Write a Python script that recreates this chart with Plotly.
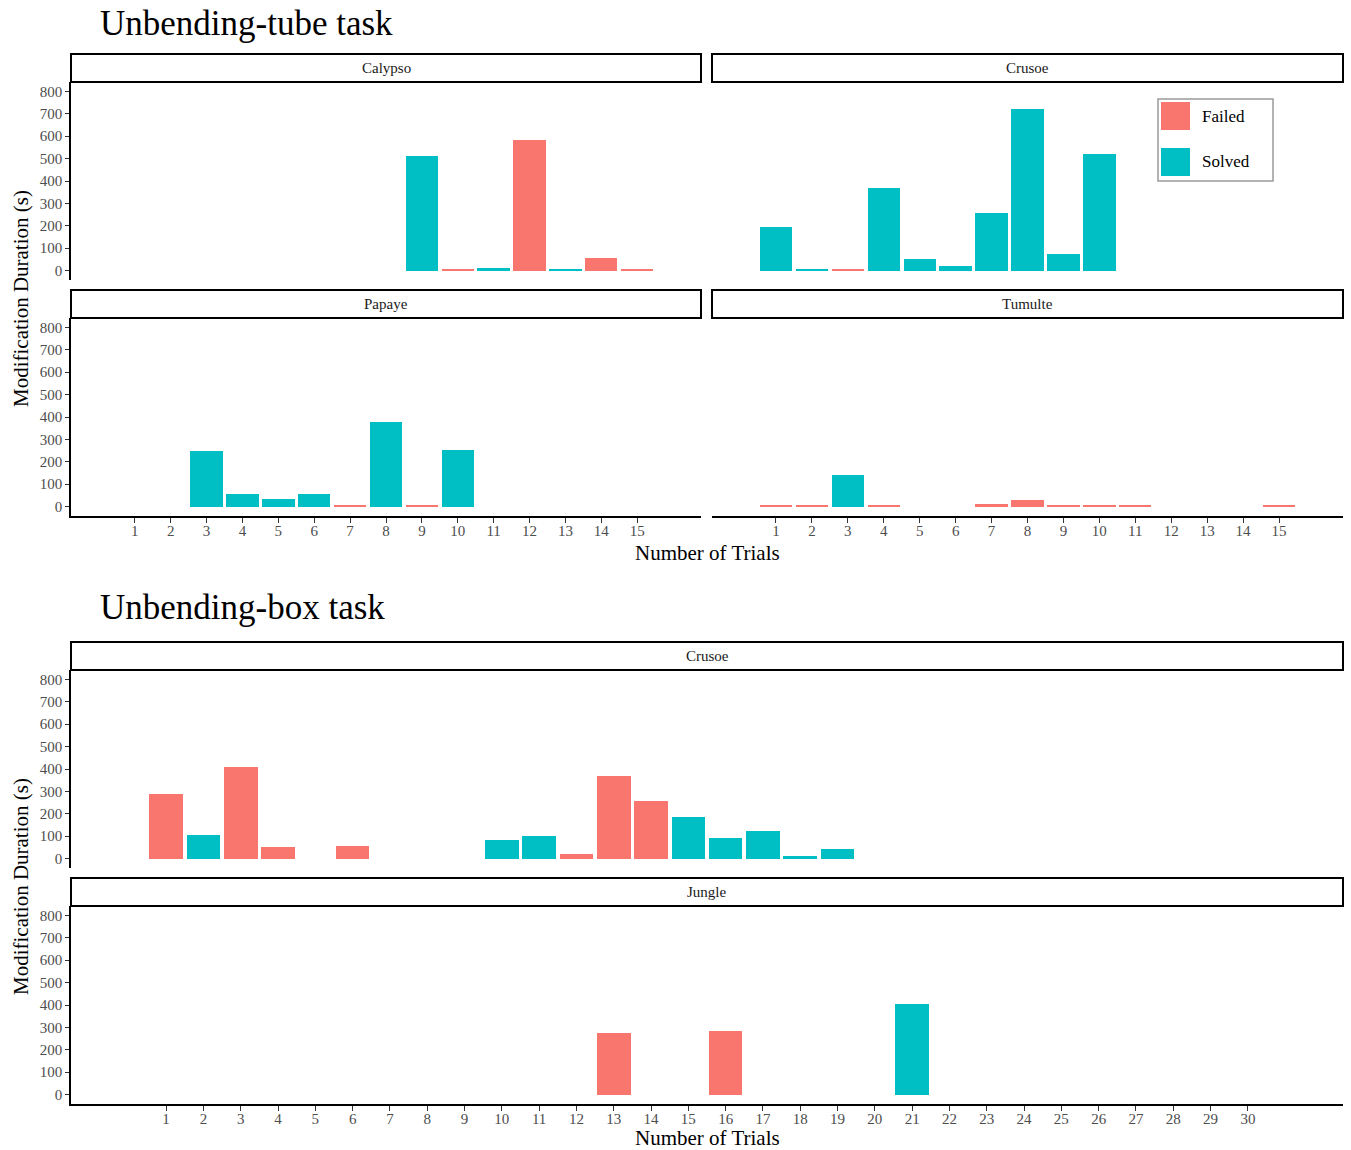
import plotly.graph_objects as go

W, H = 1351, 1150
FAILED_COLOR = "#F8766D"
SOLVED_COLOR = "#00BFC4"
FONT = "Liberation Serif, Times New Roman, serif"

# ---------------- data ----------------
calypso_trials = [9, 10, 11, 12, 13, 14, 15]
calypso_dur = [510, 6, 13, 583, 6, 57, 3]
calypso_out = ["Solved", "Failed", "Solved", "Failed", "Solved", "Failed", "Failed"]

crusoe_tube_trials = [1, 2, 3, 4, 5, 6, 7, 8, 9, 10]
crusoe_tube_dur = [194, 6, 6, 371, 54, 19, 257, 723, 73, 519]
crusoe_tube_out = ["Solved", "Solved", "Failed", "Solved", "Solved", "Solved",
                   "Solved", "Solved", "Solved", "Solved"]

papaye_trials = [3, 4, 5, 6, 7, 8, 9, 10]
papaye_dur = [246, 55, 36, 58, 3, 379, 3, 254]
papaye_out = ["Solved", "Solved", "Solved", "Solved", "Failed", "Solved", "Failed", "Solved"]

tumulte_trials = [1, 2, 3, 4, 7, 8, 9, 10, 11, 15]
tumulte_dur = [9, 3, 140, 3, 13, 31, 3, 3, 9, 3]
tumulte_out = ["Failed", "Failed", "Solved", "Failed", "Failed", "Failed",
               "Failed", "Failed", "Failed", "Failed"]

box_crusoe_trials = [1, 2, 3, 4, 6, 10, 11, 12, 13, 14, 15, 16, 17, 18, 19]
box_crusoe_dur = [290, 106, 410, 51, 58, 81, 101, 21, 367, 257, 184, 91, 121, 13, 43]
box_crusoe_out = ["Failed", "Solved", "Failed", "Failed", "Failed", "Solved", "Solved",
                  "Failed", "Failed", "Failed", "Solved", "Solved", "Solved", "Solved", "Solved"]

jungle_trials = [13, 16, 21]
jungle_dur = [277, 285, 406]
jungle_out = ["Failed", "Failed", "Solved"]

tube_ticks = list(range(1, 16))
box_ticks = list(range(1, 31))
y_ticks = [0, 100, 200, 300, 400, 500, 600, 700, 800]

# ---------------- layout helpers ----------------
def px(x):
    return x / W

def py(y):
    return 1 - y / H

panels = [
    ("Calypso", calypso_trials, calypso_dur, calypso_out, (71, 701), (82, 280), (54, 82),
     [-0.78, 16.78], tube_ticks, False, True),
    ("Crusoe", crusoe_tube_trials, crusoe_tube_dur, crusoe_tube_out, (712, 1343), (82, 280), (54, 82),
     [-0.78, 16.78], tube_ticks, False, False),
    ("Papaye", papaye_trials, papaye_dur, papaye_out, (71, 701), (318, 516), (290, 318),
     [-0.78, 16.78], tube_ticks, True, True),
    ("Tumulte", tumulte_trials, tumulte_dur, tumulte_out, (712, 1343), (318, 516), (290, 318),
     [-0.78, 16.78], tube_ticks, True, False),
    ("Crusoe", box_crusoe_trials, box_crusoe_dur, box_crusoe_out, (71, 1343), (670, 868), (642, 670),
     [-1.55, 32.55], box_ticks, False, True),
    ("Jungle", jungle_trials, jungle_dur, jungle_out, (71, 1343), (906, 1104), (878, 906),
     [-1.55, 32.55], box_ticks, True, True),
]

fig = go.Figure()
shapes = []
annotations = []
layout_axes = {}

for i, (name, trials, dur, out, xs, ys, ss, xr, ticks, showx, showy) in enumerate(panels, start=1):
    xa = "x" if i == 1 else f"x{i}"
    ya = "y" if i == 1 else f"y{i}"
    for outcome, color in (("Failed", FAILED_COLOR), ("Solved", SOLVED_COLOR)):
        tx = [t for t, o in zip(trials, out) if o == outcome]
        ty = [d for d, o in zip(dur, out) if o == outcome]
        if not tx:
            continue
        fig.add_trace(go.Bar(
            x=tx, y=ty, width=0.9, name=outcome, showlegend=False,
            marker=dict(color=color, line=dict(width=0)),
            xaxis=xa, yaxis=ya,
        ))
    xkey = "xaxis" if i == 1 else f"xaxis{i}"
    ykey = "yaxis" if i == 1 else f"yaxis{i}"
    layout_axes[xkey] = dict(
        domain=[px(xs[0]), px(xs[1])], range=xr, anchor=ya,
        tickmode="array", tickvals=ticks, ticktext=[str(t) for t in ticks],
        showticklabels=showx, ticks="outside" if showx else "",
        ticklen=5, tickwidth=1.2, tickcolor="#333333", ticklabelstandoff=-5,
        showline=showx, linecolor="black", linewidth=1.5,
        showgrid=False, zeroline=False, fixedrange=True,
        tickfont=dict(family=FONT, size=15, color="#4D4D4D"),
    )
    layout_axes[ykey] = dict(
        domain=[py(ys[1]), py(ys[0])], range=[-42, 842], anchor=xa,
        tickmode="array", tickvals=y_ticks,
        showticklabels=showy, ticks="outside" if showy else "",
        ticklen=4, tickwidth=1.2, tickcolor="#333333",
        showline=showy, linecolor="black", linewidth=1.5,
        showgrid=False, zeroline=False, fixedrange=True,
        tickfont=dict(family=FONT, size=15, color="#4D4D4D"),
    )
    shapes.append(dict(type="rect", xref="paper", yref="paper",
                       x0=px(xs[0]), x1=px(xs[1]), y0=py(ss[1]), y1=py(ss[0]),
                       line=dict(color="black", width=2), fillcolor="white"))
    annotations.append(dict(text=name, xref="paper", yref="paper",
                            x=px((xs[0] + xs[1]) / 2), y=py((ss[0] + ss[1]) / 2),
                            showarrow=False, xanchor="center", yanchor="middle",
                            font=dict(family=FONT, size=15, color="#1A1A1A")))

# titles
annotations.append(dict(text="Unbending-tube task", xref="paper", yref="paper",
                        x=px(98), y=py(23), xanchor="left", yanchor="middle", showarrow=False,
                        font=dict(family=FONT, size=35, color="black")))
annotations.append(dict(text="Unbending-box task", xref="paper", yref="paper",
                        x=px(98), y=py(607), xanchor="left", yanchor="middle", showarrow=False,
                        font=dict(family=FONT, size=35, color="black")))
# axis titles
for yc in (299, 887):
    annotations.append(dict(text="Modification Duration (s)", xref="paper", yref="paper",
                            x=px(21), y=py(yc), xanchor="center", yanchor="middle",
                            textangle=-90, showarrow=False,
                            font=dict(family=FONT, size=21, color="black")))
for yc in (553, 1138):
    annotations.append(dict(text="Number of Trials", xref="paper", yref="paper",
                            x=px(707), y=py(yc), xanchor="center", yanchor="middle",
                            showarrow=False, font=dict(family=FONT, size=21, color="black")))

# legend (drawn in paper space)
shapes.append(dict(type="rect", xref="paper", yref="paper",
                   x0=px(1158), x1=px(1273), y0=py(181), y1=py(99),
                   line=dict(color="#9A9A9A", width=1.5), fillcolor="white"))
for label, color, yc in (("Failed", FAILED_COLOR, 116), ("Solved", SOLVED_COLOR, 162)):
    shapes.append(dict(type="rect", xref="paper", yref="paper",
                       x0=px(1161), x1=px(1190), y0=py(yc + 14), y1=py(yc - 14),
                       line=dict(width=0), fillcolor=color))
    annotations.append(dict(text=label, xref="paper", yref="paper",
                            x=px(1200), y=py(yc), xanchor="left", yanchor="middle",
                            showarrow=False, font=dict(family=FONT, size=17, color="black")))

fig.update_layout(
    width=W, height=H, margin=dict(l=0, r=0, t=0, b=0),
    paper_bgcolor="white", plot_bgcolor="white",
    showlegend=False, bargap=0,
    shapes=shapes, annotations=annotations,
    **layout_axes,
)

fig.write_html("out.html", config={"displayModeBar": False},
               post_script="document.body.style.margin='0';")
